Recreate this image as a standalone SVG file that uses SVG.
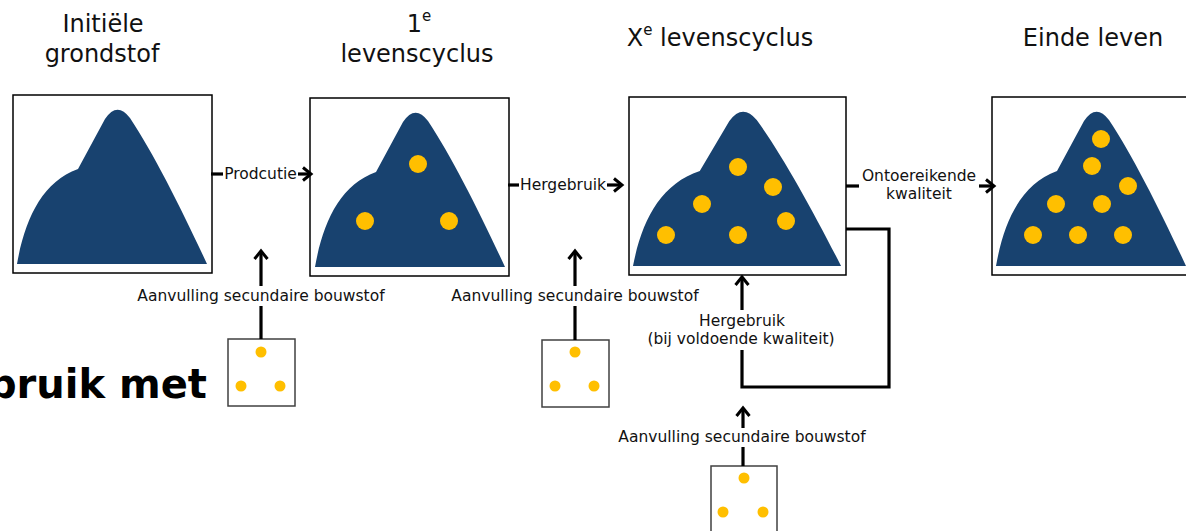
<svg xmlns="http://www.w3.org/2000/svg" xmlns:xlink="http://www.w3.org/1999/xlink" width="1186" height="531" viewBox="0 0 1186 531">
<style>
.title{font-family:"DejaVu Sans","Liberation Sans",sans-serif;font-size:24px;fill:#111;}
.lbl{font-family:"DejaVu Sans","Liberation Sans",sans-serif;font-size:15.5px;fill:#111;}
.big{font-family:"DejaVu Sans","Liberation Sans",sans-serif;font-size:40px;font-weight:bold;fill:#000;}
.box{fill:#fff;stroke:#000;stroke-width:1.5;}
.sbox{fill:#fff;stroke:#404040;stroke-width:1.5;}
.dot{fill:#FFBF00;}
.conn{fill:none;stroke:#000;stroke-width:3.2;stroke-linejoin:miter;}
</style>
<defs>
<path id="mtn" d="M0,0 C8,-45 25,-82 61,-95 L88,-145 Q100,-163 113,-146 C137,-110 166,-52 190,0 Z" fill="#18426f"/>
<marker id="ah" viewBox="0 0 16 16" refX="12" refY="8" markerWidth="16" markerHeight="16" markerUnits="userSpaceOnUse" orient="auto">
<path d="M4,1.5 L12,8 L4,14.5" fill="none" stroke="#000" stroke-width="3"/>
</marker>
</defs>
<rect width="1186" height="531" fill="#fff"/>

<text class="big" x="207" y="398" text-anchor="end">bruik met</text>

<g id="title-initieel">
<text class="title" x="103" y="32" text-anchor="middle">Initiële</text>
<text class="title" x="102" y="62" text-anchor="middle">grondstof</text>
</g>
<g id="title-1e">
<text class="title" x="419" y="32" text-anchor="middle">1<tspan font-size="15" dy="-11">e</tspan></text>
<text class="title" x="417" y="62" text-anchor="middle">levenscyclus</text>
</g>
<g id="title-xe">
<text class="title" x="720" y="46" text-anchor="middle">X<tspan font-size="15" dy="-11">e</tspan><tspan dy="11"> levenscyclus</tspan></text>
</g>
<g id="title-einde">
<text class="title" x="1093" y="46" text-anchor="middle">Einde leven</text>
</g>

<g id="node-initieel">
<rect class="box" x="13" y="95" width="199" height="178"/>
<use xlink:href="#mtn" transform="translate(17,264)"/>
</g>

<g id="node-1e">
<rect class="box" x="310" y="98" width="199" height="178"/>
<use xlink:href="#mtn" transform="translate(315,267)"/>
<circle class="dot" cx="418" cy="164" r="9"/>
<circle class="dot" cx="365" cy="221" r="9"/>
<circle class="dot" cx="449" cy="221" r="9"/>
</g>

<g id="node-xe">
<rect class="box" x="629" y="97" width="217" height="178"/>
<use xlink:href="#mtn" transform="translate(633,266) scale(1.095,1)"/>
<circle class="dot" cx="738" cy="167" r="9"/>
<circle class="dot" cx="773" cy="187" r="9"/>
<circle class="dot" cx="702" cy="204" r="9"/>
<circle class="dot" cx="786" cy="221" r="9"/>
<circle class="dot" cx="666" cy="235" r="9"/>
<circle class="dot" cx="738" cy="235" r="9"/>
</g>

<g id="node-einde">
<rect class="box" x="992" y="97" width="200" height="178"/>
<use xlink:href="#mtn" transform="translate(996,266)"/>
<circle class="dot" cx="1101" cy="139" r="9"/>
<circle class="dot" cx="1092" cy="166" r="9"/>
<circle class="dot" cx="1128" cy="186" r="9"/>
<circle class="dot" cx="1056" cy="204" r="9"/>
<circle class="dot" cx="1102" cy="204" r="9"/>
<circle class="dot" cx="1033" cy="235" r="9"/>
<circle class="dot" cx="1078" cy="235" r="9"/>
<circle class="dot" cx="1123" cy="235" r="9"/>
</g>

<g id="node-secundair-1">
<rect class="sbox" x="228" y="339" width="67" height="67"/>
<circle class="dot" cx="261" cy="352" r="5.5"/>
<circle class="dot" cx="241" cy="386" r="5.5"/>
<circle class="dot" cx="280" cy="386" r="5.5"/>
</g>
<g id="node-secundair-2">
<rect class="sbox" x="542" y="340" width="67" height="67"/>
<circle class="dot" cx="575" cy="352" r="5.5"/>
<circle class="dot" cx="555" cy="386" r="5.5"/>
<circle class="dot" cx="594" cy="386" r="5.5"/>
</g>
<g id="node-secundair-3">
<rect class="sbox" x="711" y="466" width="66" height="80"/>
<circle class="dot" cx="744" cy="478" r="5.5"/>
<circle class="dot" cx="723" cy="512" r="5.5"/>
<circle class="dot" cx="763" cy="512" r="5.5"/>
</g>

<g id="connectors">
<path class="conn" d="M211,174 H223"/>
<path class="conn" d="M298,174 H311" marker-end="url(#ah)"/>
<text class="lbl" x="260.5" y="179" text-anchor="middle">Prodcutie</text>

<path class="conn" d="M508,185 H519"/>
<path class="conn" d="M607,185 H622" marker-end="url(#ah)"/>
<text class="lbl" x="563" y="190" text-anchor="middle">Hergebruik</text>

<path class="conn" d="M846,186 H859"/>
<path class="conn" d="M979,186 H994" marker-end="url(#ah)"/>
<text class="lbl" x="919" y="181" text-anchor="middle">Ontoereikende</text>
<text class="lbl" x="919" y="199" text-anchor="middle">kwaliteit</text>

<path class="conn" d="M261,339 V306"/>
<path class="conn" d="M261,286 V251" marker-end="url(#ah)"/>
<text class="lbl" x="261" y="301" text-anchor="middle">Aanvulling secundaire bouwstof</text>

<path class="conn" d="M575,340 V306"/>
<path class="conn" d="M575,286 V251" marker-end="url(#ah)"/>
<text class="lbl" x="575" y="301" text-anchor="middle">Aanvulling secundaire bouwstof</text>

<path class="conn" d="M743,466 V447"/>
<path class="conn" d="M743,428 V408" marker-end="url(#ah)"/>
<text class="lbl" x="742" y="442" text-anchor="middle">Aanvulling secundaire bouwstof</text>

<path class="conn" d="M846,229 H889 V387 H742 V350"/>
<path class="conn" d="M742,310 V277" marker-end="url(#ah)"/>
<text class="lbl" x="742" y="326" text-anchor="middle">Hergebruik</text>
<text class="lbl" x="741" y="344" text-anchor="middle">(bij voldoende kwaliteit)</text>
</g>
</svg>
